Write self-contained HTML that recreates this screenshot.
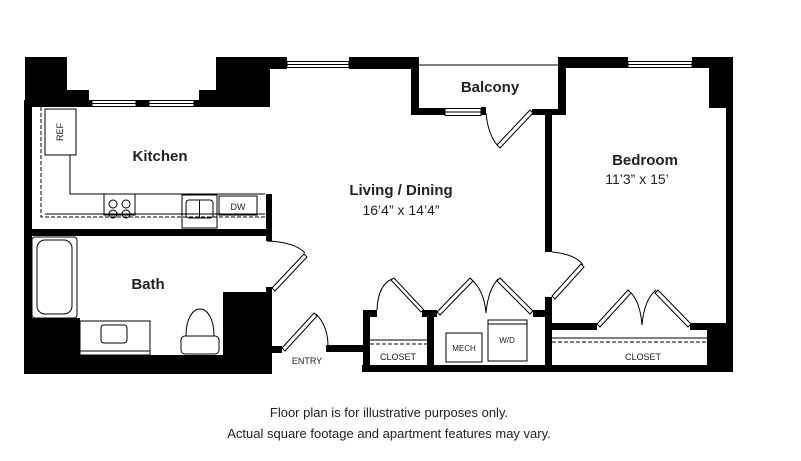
<!DOCTYPE html>
<html><head><meta charset="utf-8"><style>
html,body{margin:0;padding:0;background:#fff;}
svg{display:block;}
text{font-family:"Liberation Sans",Arial,sans-serif;fill:#222;}
</style></head><body>
<svg width="801" height="461" viewBox="0 0 801 461" xmlns="http://www.w3.org/2000/svg">
<rect width="801" height="461" fill="#fff"/>
<g fill="#000">
<!-- top left blocks -->
<rect x="25" y="57" width="42" height="50"/>
<rect x="67" y="90" width="22" height="17"/>
<rect x="89" y="100" width="3" height="7"/>
<rect x="136" y="100" width="13" height="7"/>
<rect x="194" y="100" width="6" height="7"/>
<rect x="199" y="90" width="18" height="17"/>
<rect x="216" y="57" width="54" height="50"/>
<rect x="216" y="57" width="71" height="12"/>
<!-- left wall -->
<rect x="24" y="100" width="8" height="274"/>
<!-- kitchen/bath wall -->
<rect x="24" y="229" width="248" height="7"/>
<rect x="266" y="194" width="6" height="47"/>
<!-- bath blocks -->
<rect x="24" y="318" width="56" height="56"/>
<rect x="24" y="355" width="248" height="19"/>
<rect x="223" y="292" width="49" height="82"/>
<rect x="266" y="287" width="6" height="10"/>
<!-- entry -->
<rect x="272" y="346" width="10" height="7"/>
<rect x="326" y="345" width="37" height="7"/>
<!-- top wall middle -->
<rect x="349" y="57" width="69" height="12"/>
<rect x="411" y="57" width="8" height="58"/>
<rect x="411" y="108" width="34" height="7"/>
<rect x="481" y="107" width="5" height="8"/>
<rect x="532" y="109" width="34" height="6"/>
<rect x="558" y="57" width="8" height="58"/>
<rect x="558" y="57" width="70" height="11"/>
<rect x="692" y="57" width="41" height="11"/>
<rect x="709" y="57" width="24" height="51"/>
<rect x="726" y="57" width="7" height="315"/>
<!-- bedroom wall -->
<rect x="545" y="109" width="7" height="143"/>
<rect x="545" y="297" width="7" height="75"/>
<rect x="552" y="323" width="45" height="7"/>
<rect x="690" y="323" width="43" height="7"/>
<rect x="707" y="323" width="26" height="49"/>
<!-- living closets -->
<rect x="363" y="310" width="7" height="62"/>
<rect x="363" y="310" width="14" height="7"/>
<rect x="422" y="310" width="15" height="7"/>
<rect x="427" y="310" width="7" height="62"/>
<rect x="533" y="310" width="19" height="7"/>
<rect x="362" y="365" width="371" height="7"/>
</g>
<g fill="none" stroke="#000" stroke-width="1">
<!-- windows -->
<rect x="92" y="100.5" width="44" height="6"/><line x1="92" y1="103.5" x2="136" y2="103.5"/>
<rect x="149" y="100.5" width="45" height="6"/><line x1="149" y1="103.5" x2="194" y2="103.5"/>
<rect x="287" y="61.5" width="62" height="6"/><line x1="287" y1="64.5" x2="349" y2="64.5"/>
<rect x="445" y="108.5" width="36" height="7"/><line x1="445" y1="112" x2="481" y2="112"/>
<rect x="628" y="61.5" width="64" height="6"/><line x1="628" y1="64.5" x2="692" y2="64.5"/>
<line x1="419" y1="65" x2="558" y2="65"/>
<!-- kitchen -->
<path d="M41 107 V217 H265" stroke-dasharray="4,2"/>
<rect x="45" y="109" width="31" height="46"/>
<path d="M45 155 H70 V194 H265"/>
<line x1="45" y1="214" x2="265" y2="214"/>
<rect x="104" y="194" width="31" height="21"/>
<circle cx="113" cy="204" r="4"/><circle cx="126" cy="204" r="4"/>
<circle cx="113" cy="214" r="4"/><circle cx="126" cy="214" r="4"/>
<rect x="182" y="195" width="35" height="33"/>
<rect x="186" y="200" width="27" height="18" rx="3"/>
<line x1="199.5" y1="200" x2="199.5" y2="218"/>
<rect x="219" y="196" width="38" height="19"/>
<!-- bath -->
<rect x="32" y="237" width="45" height="81" rx="3"/>
<rect x="37" y="240" width="35" height="74" rx="8"/>
<rect x="80" y="321" width="70" height="34"/>
<line x1="80" y1="351" x2="150" y2="351"/>
<rect x="101" y="325" width="26" height="18" rx="3"/>
<rect x="181" y="336" width="38" height="18" rx="4"/>
<path d="M186 336 C186 300 214 300 214 336"/>
<!-- doors -->
<path d="M267 241 Q295 242 305 253"/>
<path d="M272 288 L304 254 L307 257 L275 291 Z"/>
<path d="M282 348 L314 313 L317 316 L285 351 Z"/>
<path d="M316 314 Q328 326 328 346"/>
<path d="M486 113 Q488 135 498 146"/>
<path d="M497 145 L530 110 L533 113 L500 148 Z"/>
<path d="M552 252 Q575 254 583 265"/>
<path d="M552 296 L581 264 L584 267 L555 299 Z"/>
<!-- living closet doors -->
<path d="M377 310 Q378 285 392 279"/>
<path d="M391 280 L421 312 L424 310 L394 278 Z"/>
<path d="M437 312 L470 278 L473 281 L440 315 Z"/>
<path d="M471 279 Q484 290 486 313"/>
<path d="M486 313 Q488 290 498 279"/>
<path d="M497 281 L530 314 L533 311 L500 278 Z"/>
<!-- bedroom closet doors -->
<path d="M597 324 L628 290 L631 293 L600 327 Z"/>
<path d="M629 291 Q640 300 642 325"/>
<path d="M642 325 Q644 300 656 290"/>
<path d="M655 293 L688 327 L691 324 L658 290 Z"/>
<!-- closets -->
<line x1="370" y1="344" x2="427" y2="344" stroke-dasharray="4,2"/>
<line x1="370" y1="340" x2="427" y2="340"/>
<line x1="552" y1="342" x2="707" y2="342" stroke-dasharray="4,2"/>
<line x1="552" y1="338" x2="707" y2="338"/>
<rect x="446" y="333" width="36" height="29"/>
<rect x="488" y="320" width="39" height="41"/>
<line x1="488" y1="324" x2="527" y2="324"/>
</g>
<text x="63" y="132" font-size="9" transform="rotate(-90 63 132)" text-anchor="middle">REF</text>
<text x="238" y="210" font-size="9" text-anchor="middle">DW</text>
<text x="160" y="161" font-size="15" font-weight="bold" text-anchor="middle">Kitchen</text>
<text x="148" y="289" font-size="15" font-weight="bold" text-anchor="middle">Bath</text>
<text x="490" y="92" font-size="15" font-weight="bold" text-anchor="middle">Balcony</text>
<text x="401" y="195" font-size="15" font-weight="bold" text-anchor="middle">Living / Dining</text>
<text x="401" y="215" font-size="14" text-anchor="middle">16’4” x 14’4”</text>
<text x="645" y="165" font-size="15" font-weight="bold" text-anchor="middle">Bedroom</text>
<text x="637" y="184" font-size="14" text-anchor="middle">11’3” x 15’</text>
<text x="307" y="364" font-size="9" text-anchor="middle">ENTRY</text>
<text x="398" y="360" font-size="9" text-anchor="middle">CLOSET</text>
<text x="643" y="360" font-size="9" text-anchor="middle">CLOSET</text>
<text x="464" y="351" font-size="8" text-anchor="middle">MECH</text>
<text x="507" y="343" font-size="8" text-anchor="middle">W/D</text>
<text x="389" y="417" font-size="13" text-anchor="middle">Floor plan is for illustrative purposes only.</text>
<text x="389" y="438" font-size="13" text-anchor="middle">Actual square footage and apartment features may vary.</text>
</svg>
</body></html>
